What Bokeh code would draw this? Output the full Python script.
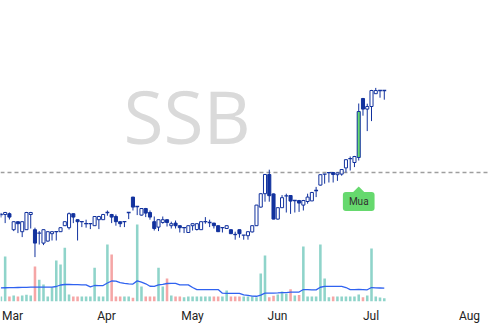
from bokeh.plotting import figure
from bokeh.models import (Range1d, FixedTicker, CustomJSTickFormatter, Span, Label)
from bokeh.embed import file_html
from bokeh.resources import INLINE
import pandas as pd

# ---------------- data (SSB daily, index = trading day) ----------------
ticker_name = "SSB"

opens = [
    15.90, 15.90, 15.94, 15.14, 15.54, 15.04, 15.14, 15.90, 15.14, 14.97,
    14.47, 14.57, 14.94, 15.04, 15.04, 15.34, 15.24, 15.94, 15.64, 15.54,
    15.44, 15.44, 15.34, 15.64, 15.64, 16.00, 15.90, 15.80, 15.54, 15.54,
    16.00, 16.77, 16.30, 15.87, 16.20, 16.00, 15.54, 15.27, 15.50, 15.64,
    15.34, 15.47, 15.34, 15.24, 15.00, 15.34, 15.15, 15.14, 15.54, 15.50,
    15.47, 15.34, 15.24, 15.20, 15.14, 14.91, 15.14, 14.87, 14.84, 15.03,
    15.34, 16.27, 16.94, 17.90, 16.93, 15.67, 16.24, 16.83, 16.85, 16.60,
    16.60, 16.37, 16.55, 16.58, 17.10, 17.37, 17.92, 17.99, 18.00, 17.89,
    17.92, 18.23, 18.69, 18.50, 18.75, 21.70, 21.17, 21.30, 21.94, 22.10,
    22.10]
highs = [
    15.98, 16.03, 16.00, 15.55, 15.55, 15.55, 16.03, 16.03, 15.24, 15.07,
    15.15, 15.05, 15.05, 15.04, 15.25, 15.55, 16.00, 15.95, 15.65, 15.54,
    15.64, 15.44, 15.80, 15.83, 15.93, 16.10, 15.93, 15.90, 15.55, 15.54,
    16.00, 16.78, 16.30, 16.20, 16.23, 16.10, 15.80, 15.65, 15.80, 15.65,
    15.54, 15.60, 15.35, 15.24, 15.35, 15.45, 15.45, 15.55, 15.77, 15.64,
    15.48, 15.35, 15.24, 15.35, 15.15, 15.04, 15.15, 14.87, 15.05, 15.35,
    16.38, 16.95, 17.93, 18.14, 16.95, 16.25, 16.87, 16.94, 16.87, 16.60,
    16.63, 16.63, 16.94, 17.03, 17.28, 17.90, 17.93, 17.99, 18.00, 17.98,
    18.15, 18.65, 18.80, 18.83, 21.45, 21.73, 21.44, 22.13, 22.23, 22.10,
    22.10]
lows = [
    15.75, 15.47, 15.65, 15.07, 14.97, 14.77, 15.13, 15.20, 13.77, 14.40,
    14.37, 14.55, 14.60, 14.60, 15.03, 15.33, 15.15, 15.47, 14.60, 15.27,
    15.24, 15.17, 15.33, 15.17, 15.63, 15.84, 15.47, 15.34, 15.27, 15.27,
    15.67, 16.10, 15.87, 15.85, 15.77, 15.64, 15.10, 15.07, 15.44, 15.30,
    15.20, 15.20, 15.00, 14.97, 14.99, 15.10, 15.10, 15.13, 15.44, 15.27,
    15.20, 15.03, 15.00, 15.19, 14.93, 14.64, 14.74, 14.64, 14.64, 15.00,
    15.33, 16.25, 16.54, 16.54, 15.66, 15.65, 16.23, 16.00, 15.93, 16.00,
    16.03, 16.10, 16.44, 16.57, 16.77, 17.35, 17.44, 17.50, 17.50, 17.58,
    17.84, 18.00, 18.10, 18.27, 18.60, 20.84, 20.07, 20.57, 21.93, 21.74,
    21.64]
closes = [
    15.90, 16.00, 15.77, 15.54, 15.44, 15.54, 16.00, 16.00, 14.47, 14.97,
    15.14, 15.04, 15.04, 15.04, 15.24, 15.54, 15.94, 15.77, 15.54, 15.54,
    15.44, 15.44, 15.80, 15.80, 15.90, 16.00, 15.77, 15.54, 15.44, 15.54,
    16.00, 16.27, 16.30, 16.20, 15.97, 15.77, 15.20, 15.64, 15.64, 15.50,
    15.44, 15.34, 15.24, 15.24, 15.34, 15.44, 15.44, 15.54, 15.54, 15.50,
    15.34, 15.04, 15.24, 15.34, 14.94, 14.89, 14.94, 14.87, 15.04, 15.34,
    16.37, 16.94, 17.90, 16.84, 15.67, 16.24, 16.74, 16.83, 16.57, 16.60,
    16.47, 16.60, 16.77, 17.00, 17.10, 17.89, 17.92, 17.99, 17.90, 17.98,
    18.15, 18.64, 18.69, 18.80, 21.05, 21.17, 21.30, 22.10, 22.10, 22.10,
    22.10]
# volume, millions of shares
volumes = [
    1.0, 9.0, 1.0, 1.2, 1.0, 1.2, 1.34, 1.2, 7.0, 4.34,
    3.4, 1.0, 2.86, 8.2, 7.4, 10.74, 1.4, 1.0, 1.0, 1.0,
    1.0, 1.0, 6.74, 1.0, 1.0, 11.4, 9.4, 1.0, 1.0, 1.0,
    1.0, 0.74, 15.4, 3.0, 1.0, 1.0, 1.0, 6.74, 3.0, 4.6,
    1.2, 1.0, 1.0, 0.86, 1.0, 1.0, 1.0, 1.0, 1.0, 1.0,
    1.0, 1.0, 1.0, 2.2, 1.0, 1.0, 1.0, 1.0, 1.0, 1.0,
    0.86, 5.6, 9.2, 0.86, 1.14, 1.4, 2.0, 1.54, 2.46, 1.2,
    1.3, 11.0, 1.0, 1.0, 1.0, 11.4, 4.6, 0.86, 1.0, 1.0,
    1.0, 1.0, 1.0, 1.0, 1.4, 0.86, 1.2, 10.6, 1.0, 0.8,
    0.66]
# 20-day volume average as read for the first days (earlier history not shown)
vol_ma_head = [2.74, 2.75, 2.76, 2.78, 2.80, 2.82, 2.84, 2.86, 2.87, 2.87,
               2.87, 2.87, 2.87, 3.00, 3.30, 3.40, 3.40, 3.38, 3.36]
ma_period = 20

month_pos = [2.72, 24.79, 44.98, 64.93, 86.88, 110.0]
month_labels = ["Mar", "Apr", "May", "Jun", "Jul", "Aug"]

ref_level = 18.0          # dashed reference price
signal_idx = 84           # buy signal candle
signal_text = "Mua"

# ---------------- styling ----------------
BLUE = "#12329e"
GREEN = "#66d96e"
TEAL = "#8fd4ca"
PINK = "#f5a6a6"
MA_BLUE = "#2f62f0"

n = len(opens)
idx = list(range(n))

vol_series = pd.Series(volumes)
vol_ma = vol_series.rolling(ma_period).mean().tolist()
vol_ma[:len(vol_ma_head)] = vol_ma_head
vol_colors = [PINK if c < o else TEAL for o, c in zip(opens, closes)]

y_lo, y_hi = 11.55, 26.6
frame_h = 301
px_per_unit = frame_h / (y_hi - y_lo)

p = figure(width=489, height=326,
           x_range=Range1d(-0.094, 114.7), y_range=Range1d(y_lo, y_hi),
           output_backend="svg", toolbar_location=None,
           y_axis_location=None,
           min_border_left=0, min_border_right=0, min_border_top=0,
           min_border_bottom=25)
p.grid.visible = False
p.outline_line_color = None
p.background_fill_color = "white"
p.border_fill_color = "white"
p.extra_y_ranges = {"vol": Range1d(0, 60.2)}

# watermark
p.add_layout(Label(x=43.7, y=20.85, text=ticker_name, text_font="Open Sans",
                   text_font_size="73px", text_color="#dadada",
                   text_align="center", text_baseline="alphabetic",
                   level="underlay"))
# last price line (very light dotted)
p.add_layout(Span(location=closes[-1], dimension="width", line_color="white",
                  line_dash="1 3", line_width=1, level="underlay"))
# reference dashed line
p.add_layout(Span(location=ref_level, dimension="width", line_color="#9e9e9e",
                  line_dash="4 3", line_width=1.3, level="underlay"))

# volume
p.vbar(x=idx, top=volumes, bottom=0, width=0.6, y_range_name="vol",
       fill_color=vol_colors, line_color=None)
p.line(idx, vol_ma, y_range_name="vol", line_color=MA_BLUE, line_width=1.3)

# candles
p.segment(x0=idx, y0=lows, x1=idx, y1=highs, line_color=BLUE, line_width=1)

up = [i for i in idx if closes[i] > opens[i]]
down = [i for i in idx if closes[i] < opens[i]]
doji = [i for i in idx if closes[i] == opens[i]]

up_fill = [GREEN if i == signal_idx else "white" for i in up]
p.vbar(x=up, top=[closes[i] for i in up], bottom=[opens[i] for i in up],
       width=0.72, fill_color=up_fill, line_color=BLUE, line_width=1)
p.vbar(x=down, top=[opens[i] for i in down], bottom=[closes[i] for i in down],
       width=0.72, fill_color=BLUE, line_color=BLUE, line_width=1)
p.segment(x0=[i - 0.45 for i in doji], y0=[opens[i] for i in doji],
          x1=[i + 0.45 for i in doji], y1=[opens[i] for i in doji],
          line_color=BLUE, line_width=1.3)

# buy signal marker
p.scatter(x=[signal_idx], y=[lows[signal_idx] - 31.5 / px_per_unit],
          marker="square", size=7.8, angle=0.785398,
          fill_color=GREEN, line_color=None)
p.add_layout(Label(x=signal_idx, y=lows[signal_idx], y_offset=-41,
                   text=signal_text, text_font="Roboto", text_font_size="10px",
                   text_color="#333333", text_align="center",
                   text_baseline="middle", background_fill_color=GREEN,
                   border_radius=3,
                   padding=dict(left=6, right=6, top=4, bottom=4)))

# x axis
p.xaxis.ticker = FixedTicker(ticks=month_pos)
p.xaxis.formatter = CustomJSTickFormatter(
    args=dict(pos=month_pos, labels=month_labels),
    code="""
const i = pos.findIndex(v => Math.abs(v - tick) < 1e-6);
return i >= 0 ? labels[i] : "";
""")
p.xaxis.axis_line_color = None
p.xaxis.major_tick_line_color = None
p.xaxis.minor_tick_line_color = None
p.xaxis.major_tick_out = 0
p.xaxis.major_tick_in = 0
p.xaxis.major_label_standoff = 7
p.xaxis.major_label_text_font = "Roboto"
p.xaxis.major_label_text_font_size = "12px"
p.xaxis.major_label_text_color = "#222222"

open("out.html", "w").write(file_html(p, INLINE, title="SSB"))
